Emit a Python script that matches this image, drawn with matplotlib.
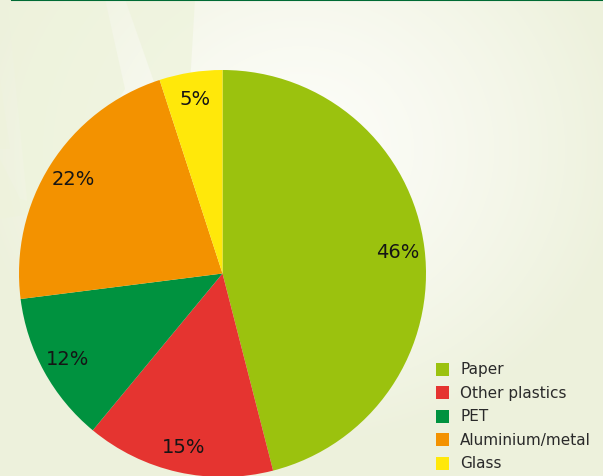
import numpy as np
import matplotlib
matplotlib.use("Agg")
import matplotlib.pyplot as plt
from matplotlib.patches import Polygon, Rectangle

categories = ["Paper", "Other plastics", "PET", "Aluminium/metal", "Glass"]
values = [46, 15, 12, 22, 5]
colors = ["#9bc20e", "#e53430", "#00923f", "#f39200", "#ffe80a"]

W, H = 603, 477
fig = plt.figure(figsize=(W / 100, H / 100), dpi=100)

# background
bg = fig.add_axes([0, 0, 1, 1])
bg.set_xlim(0, W)
bg.set_ylim(H, 0)
bg.axis("off")
yy, xx = np.mgrid[0:H, 0:W]
d = np.sqrt(((xx - 300) / 330.0) ** 2 + ((yy - 150) / 300.0) ** 2)
t = np.clip(d, 0, 1) ** 1.3
c0 = np.array([253, 253, 249]) / 255.0
c1 = np.array([237, 241, 220]) / 255.0
img = c0[None, None, :] * (1 - t[..., None]) + c1[None, None, :] * t[..., None]
bg.imshow(img, extent=[0, W, H, 0], zorder=0)
rays = [
    [(8, 8), (105, 0), (125, 90), (60, 200), (30, 230)],
    [(125, 0), (195, 0), (188, 120), (160, 100)],
    [(0, 160), (20, 200), (60, 210), (0, 220)],
    [(0, 80), (10, 150), (0, 150)],
]
for r in rays:
    bg.add_patch(Polygon(r, closed=True, facecolor="#eef3dc", edgecolor="none", alpha=0.75, zorder=1))
bg.plot([12, W], [0.6, 0.6], color="#006b34", lw=1.5, zorder=2)

# pie
cx, cy, R = 222.5, 274.5, 203.5
ax = fig.add_axes([(cx - R) / W, (H - cy - R) / H, 2 * R / W, 2 * R / H])
ax.set_facecolor("none")
wedges, texts = ax.pie(values, colors=colors, startangle=90, counterclock=False,
                       labels=[f"{v}%" for v in values], labeldistance=0.87,
                       wedgeprops=dict(linewidth=0),
                       textprops=dict(fontsize=14, color="#151515", family="DejaVu Sans"))
for tx in texts:
    tx.set_ha("center")
    tx.set_va("center")
ax.set_xlim(-1, 1)
ax.set_ylim(-1, 1)
ax.set_aspect("equal")
ax.axis("off")

# legend
ly0 = 370
for i, (cat, col) in enumerate(zip(categories, colors)):
    y = ly0 + i * 23.5
    bg.add_patch(Rectangle((436, y - 6.5), 13, 13, facecolor=col, edgecolor="none", zorder=3))
    bg.text(460, y, cat, fontsize=11, color="#2a2a2a", va="center", ha="left",
            family="DejaVu Sans", zorder=3)

fig.savefig("out.png", dpi=100)
